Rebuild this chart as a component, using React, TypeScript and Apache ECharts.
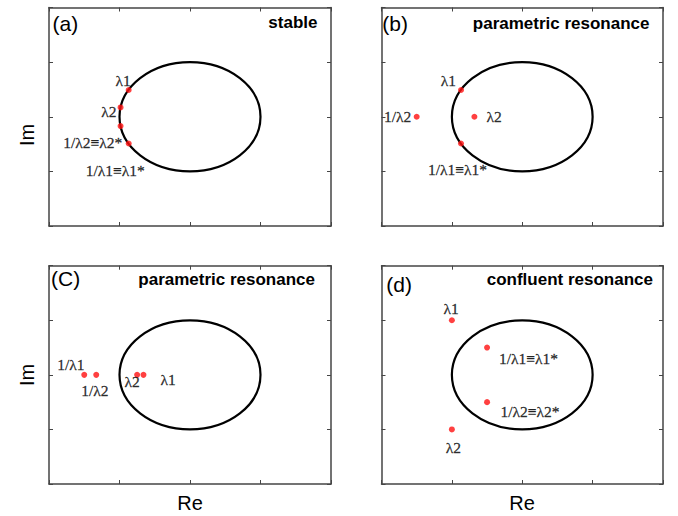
import React, { useEffect, useRef } from "react";
import * as echarts from "echarts";

// Unit circle: [centre Re, centre Im, radius]
const unitCircle = [[0, 0, 1]];

// Eigenvalue positions (Re, Im) per panel
const pointsA = [[-0.87, 0.49], [-0.985, 0.17], [-0.985, -0.17], [-0.87, -0.49]];
const pointsB = [[-0.87, 0.49], [-0.68, 0], [-1.5, 0], [-0.87, -0.49]];
const pointsC = [[-1.5, 0], [-1.33, 0], [-0.75, 0], [-0.66, 0]];
const pointsD = [[-1, 1], [-0.5, 0.5], [-0.5, -0.5], [-1, -1]];

// Annotation texts and their positions (data coordinates)
const labelTextA = ["λ1", "λ2", "1/λ2≡λ2*", "1/λ1≡λ1*"];
const labelPosA = [[-0.95, 0.67], [-1.15, 0.09], [-1.38, -0.47], [-1.06, -0.98]];
const labelTextB = ["λ1", "1/λ2", "λ2", "1/λ1≡λ1*"];
const labelPosB = [[-1.05, 0.67], [-1.77, 0], [-0.4, 0], [-0.92, -0.97]];
const labelTextC = ["1/λ1", "1/λ2", "λ2", "λ1"];
const labelPosC = [[-1.69, 0.19], [-1.35, -0.28], [-0.82, -0.12], [-0.31, -0.08]];
const labelTextD = ["λ1", "1/λ1≡λ1*", "1/λ2≡λ2*", "λ2"];
const labelPosD = [[-1.01, 1.22], [0.09, 0.3], [0.11, -0.68], [-0.98, -1.33]];

const panelTags = ["(a)", "(b)", "(C)", "(d)"];
const panelTitles = ["stable", "parametric resonance", "parametric resonance", "confluent resonance"];
const xAxisName = "Re";
const yAxisName = "Im";
const axisMin = -2;
const axisMax = 2;
const axisStep = 1;

const panelPoints = [pointsA, pointsB, pointsC, pointsD];
const panelLabelText = [labelTextA, labelTextB, labelTextC, labelTextD];
const panelLabelPos = [labelPosA, labelPosB, labelPosC, labelPosD];

const grids = [
  { left: 49, top: 7.5, width: 282, height: 218.5 },
  { left: 381.5, top: 7.5, width: 281.5, height: 218.5 },
  { left: 49, top: 265.7, width: 282, height: 218.3 },
  { left: 381.5, top: 265.7, width: 281.5, height: 218.3 },
];
const tagPos = [
  [52.5, 23.3],
  [382.3, 23.3],
  [51, 278.3],
  [386.3, 284.7],
];
const titlePos = [
  [317.5, 22.6],
  [649.5, 23],
  [315, 279.6],
  [653, 279],
];

const borderColor = "#454545";
const serifFamily = "Liberation Serif, DejaVu Serif, Times New Roman, serif";

function axisCommon(gridIndex: number, position: string) {
  return {
    type: "value",
    gridIndex,
    position,
    min: axisMin,
    max: axisMax,
    interval: axisStep,
    axisLine: { show: true, onZero: false, lineStyle: { color: borderColor, width: 1.5 } },
    axisTick: { show: true, inside: true, length: 4, lineStyle: { color: borderColor, width: 1 } },
    axisLabel: { show: false },
    splitLine: { show: false },
  };
}

export default function App() {
  const ref = useRef<HTMLDivElement>(null);
  useEffect(() => {
    if (!ref.current) return;
    const chart = echarts.init(ref.current, null, { renderer: "svg" });
    const xAxis: any[] = [];
    const yAxis: any[] = [];
    const series: any[] = [];
    grids.forEach((_, i) => {
      xAxis.push(axisCommon(i, "bottom"));
      xAxis.push(axisCommon(i, "top"));
      yAxis.push(axisCommon(i, "left"));
      yAxis.push(axisCommon(i, "right"));
      series.push({
        type: "custom",
        xAxisIndex: 2 * i,
        yAxisIndex: 2 * i,
        z: 2,
        data: unitCircle,
        renderItem: (params: any, api: any) => {
          const c = api.coord([api.value(0), api.value(1)]);
          const s = api.size([api.value(2), api.value(2)]);
          return {
            type: "ellipse",
            shape: { cx: c[0], cy: c[1], rx: s[0], ry: s[1] },
            style: { fill: "none", stroke: "#000", lineWidth: 2.2 },
          };
        },
      });
      series.push({
        type: "scatter",
        xAxisIndex: 2 * i,
        yAxisIndex: 2 * i,
        z: 3,
        symbol: "circle",
        symbolSize: 6,
        itemStyle: { color: "#ff1010" },
        data: panelPoints[i],
      });
      series.push({
        type: "scatter",
        xAxisIndex: 2 * i,
        yAxisIndex: 2 * i,
        z: 4,
        symbolSize: 1,
        itemStyle: { color: "rgba(0,0,0,0)" },
        label: {
          show: true,
          position: "inside",
          formatter: "{s|{b}}",
          color: "#000",
          fontFamily: serifFamily,
          fontSize: 15.5,
          rich: {
            s: {
              color: "#000",
              fontFamily: serifFamily,
              fontSize: 15.5,
              textBorderColor: "#000",
              textBorderWidth: 0.3,
            },
          },
        },
        data: panelLabelPos[i].map((p, j) => ({ name: panelLabelText[i][j], value: p })),
      });
    });

    const graphic: any[] = [];
    grids.forEach((_, i) => {
      graphic.push({
        type: "text",
        x: tagPos[i][0],
        y: tagPos[i][1],
        style: {
          text: panelTags[i],
          fill: "#000",
          font: "21px Liberation Sans, Arial, sans-serif",
          textAlign: "left",
          textVerticalAlign: "middle",
        },
      });
      graphic.push({
        type: "text",
        x: titlePos[i][0],
        y: titlePos[i][1],
        style: {
          text: panelTitles[i],
          fill: "#000",
          font: "bold 17px Liberation Sans, Arial, sans-serif",
          textAlign: "right",
          textVerticalAlign: "middle",
        },
      });
    });
    [[26.7, 135], [26.7, 375]].forEach((p) => {
      graphic.push({
        type: "text",
        x: p[0],
        y: p[1],
        rotation: Math.PI / 2,
        style: {
          text: yAxisName,
          fill: "#000",
          font: "20px Liberation Sans, Arial, sans-serif",
          textAlign: "center",
          textVerticalAlign: "middle",
        },
      });
    });
    [[190, 503], [522, 503]].forEach((p) => {
      graphic.push({
        type: "text",
        x: p[0],
        y: p[1],
        style: {
          text: xAxisName,
          fill: "#000",
          font: "20px Liberation Sans, Arial, sans-serif",
          textAlign: "center",
          textVerticalAlign: "middle",
        },
      });
    });

    chart.setOption({
      animation: false,
      backgroundColor: "#fff",
      grid: grids,
      xAxis,
      yAxis,
      series,
      graphic,
    });
    return () => chart.dispose();
  }, []);
  return (
    <div
      ref={ref}
      style={{ position: "fixed", left: 0, top: 0, width: 678, height: 516 }}
    />
  );
}
